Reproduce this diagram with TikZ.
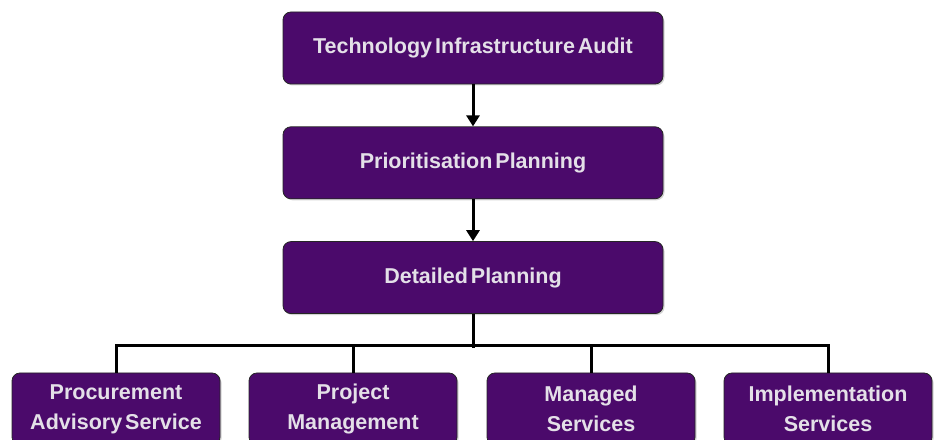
\documentclass[tikz,border=0pt]{standalone}
\usepackage{fontspec}
\setmainfont{Liberation Sans}
\usetikzlibrary{arrows.meta,positioning,shadows}
\definecolor{boxpurple}{HTML}{4B0A6B}
\definecolor{boxtext}{HTML}{E4E0E8}
\newcommand\boxfont{\fontsize{21.5}{30}\selectfont\bfseries\spaceskip=3pt\relax}

\begin{document}
\begin{tikzpicture}[x=1pt,y=1pt,
    stagebox/.style={draw=black!85, line width=0.8pt, fill=boxpurple,
        rounded corners=8pt, minimum width=380pt, minimum height=72pt,
        text=boxtext, font=\boxfont, align=center,
        drop shadow={opacity=0.35, shadow xshift=1.5pt, shadow yshift=-1.5pt}},
    servicebox/.style={stagebox, minimum width=208pt, inner xsep=2pt},
    link/.style={line width=3pt, black},
    flow/.style={link, -{Triangle[width=13pt,length=11pt]}}]

    % Fix the page to the size of the reference and cut off what hangs below
    \useasboundingbox (0,0) rectangle (934,439);
    \clip (0,0) rectangle (934,439);

    % The three planning stages, one under the other
    \node[stagebox] (audit) at (473,391) {Technology Infrastructure Audit};
    \node[stagebox, below=42pt of audit] (prio) {Prioritisation Planning};
    \node[stagebox, below=42pt of prio] (plan) {Detailed Planning};

    % The four services along the bottom edge
    \node[servicebox] (proc) at (116,30) {Procurement\\Advisory Service};
    \node[servicebox] (proj) at (353,30) {Project\\Management};
    \node[servicebox] (man) at (591,30) {Managed\\Services};
    \node[servicebox] (impl) at (828,30) {Implementation\\Services};

    % Arrows between the stages
    \draw[flow] (audit) -- (prio);
    \draw[flow] (prio) -- (plan);

    % Tree from the last stage down to the services
    \draw[link] (plan.south) -- ++(0,-34);
    \draw[link] (proc.north) -- ++(0,27) -| (impl.north);
    \draw[link] (proj.north) -- ++(0,27);
    \draw[link] (man.north) -- ++(0,27);

\end{tikzpicture}
\end{document}
